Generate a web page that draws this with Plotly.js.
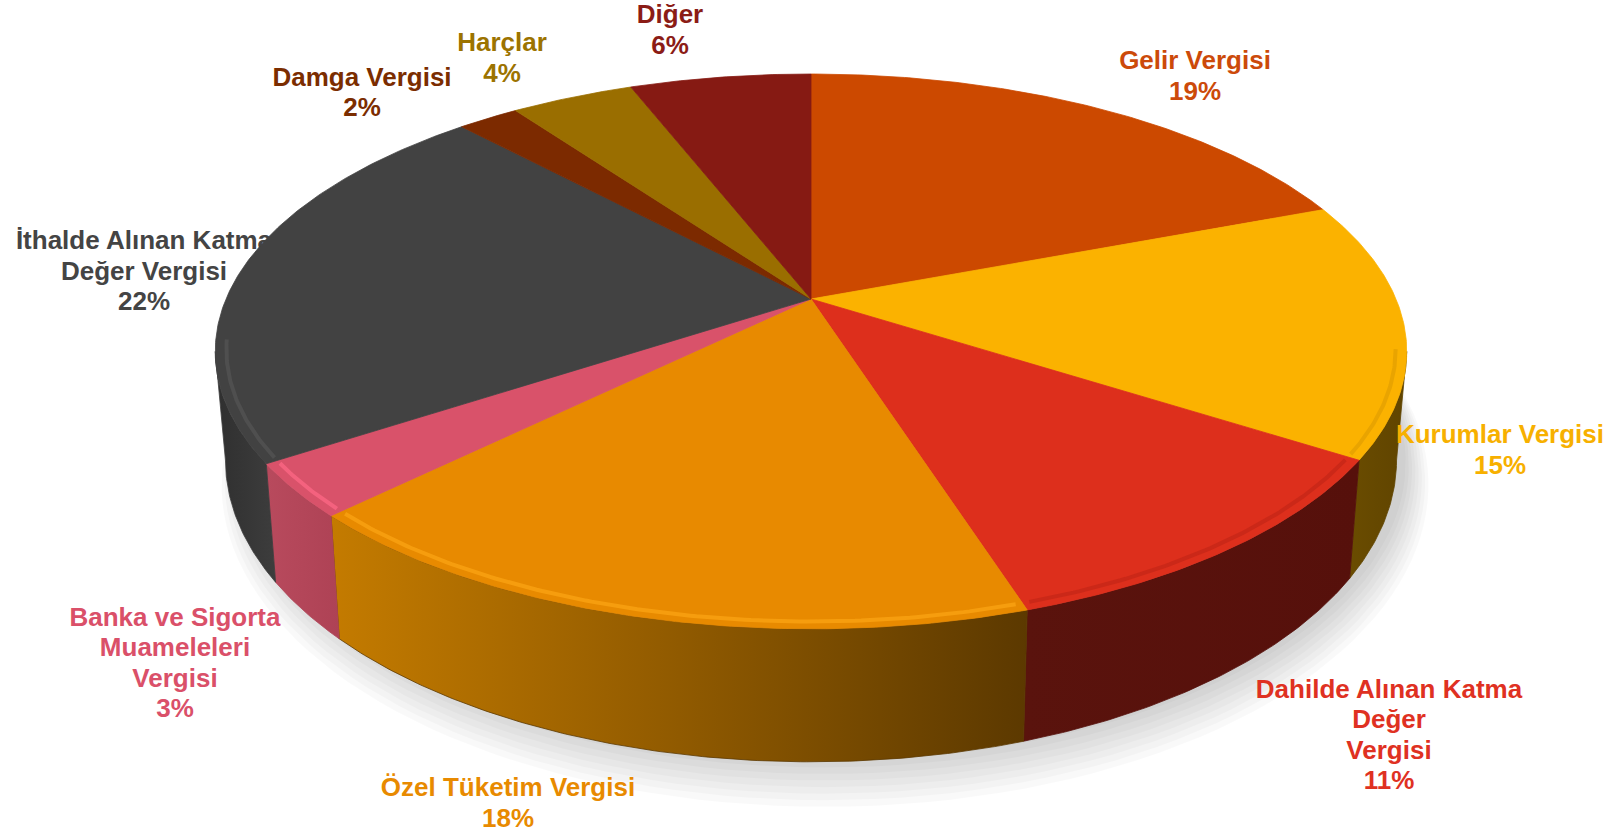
<!DOCTYPE html>
<html>
<head>
<meta charset="utf-8">
<script src="https://cdn.plot.ly/plotly-3.0.1.min.js"></script>
<style>html,body{margin:0;padding:0;background:#fff;}#chart{width:1616px;height:838px;}</style>
</head>
<body>
<div id="chart"></div>
<script>
// ---- data ----
const categories = ['Gelir Vergisi','Kurumlar Vergisi','Dahilde Alınan Katma Değer Vergisi','Özel Tüketim Vergisi','Banka ve Sigorta Muameleleri Vergisi','İthalde Alınan Katma Değer Vergisi','Damga Vergisi','Harçlar','Diğer'];
const values = [19.2, 14.9, 11.0, 17.5, 3.1, 22.4, 2.0, 4.0, 5.9];
const labelLines = [['Gelir Vergisi'],['Kurumlar Vergisi'],['Dahilde Alınan Katma','Değer','Vergisi'],['Özel Tüketim Vergisi'],['Banka ve Sigorta','Muameleleri','Vergisi'],['İthalde Alınan Katma','Değer Vergisi'],['Damga Vergisi'],['Harçlar'],['Diğer']];

// ---- styles / layout ----
const topColors  = ['#CC4900','#FBB200','#DD2F1C','#E88A00','#D9526A','#424242','#7C2A00','#9A6E00','#861A13'];
const wallColors = [['#8a3200','#8a3200'],['#6a4c00','#604400'],['#5a130d','#56100b'],['#c47b00','#5c3900'],['#b84a5d','#ae4255'],['#2f2f2f','#3d3d3d'],['#521c00','#521c00'],['#664900','#664900'],['#5a110c','#5a110c']];
const rimColors  = [null,'#c88a00','#a81e12','#ffaa18','#ff6a88','#5c5c5c',null,null,null];
const rimOpacity = [0,0.35,0.35,0.6,0.7,0.5,0,0,0];
const textColors = ['#CC4A0A','#F7B000','#DF3122','#E88A00','#DA5069','#444444','#7B2D00','#9C7300','#8B1C16'];
const labelPos = [[1195,78],[1500,452],[1389,737],[508,805],[175,665],[144,273],[362,94.5],[502,60],[670,32]];
const lineGap = 30.5;
const fontSize = 26;

// projection of the tilted disk
const G = {cx:811, cy:299, A:585, B:267.5, p:0.189, cyb:403, Ab:575, Bb:291};
function proj(phiDeg, r, bottom){
  const f = phiDeg*Math.PI/180;
  const u = r*Math.sin(f), v = -r*Math.cos(f);
  const d = 1 - G.p*v;
  if(bottom) return [G.cx + G.Ab*u/d, G.cyb + G.Bb*v/d];
  return [G.cx + G.A*u/d, G.cy + G.B*v/d];
}
function arc(a0, a1, r, bottom){
  const pts = [];
  const n = Math.max(2, Math.ceil(Math.abs(a1-a0)/0.5));
  for(let i=0;i<=n;i++){ pts.push(proj(a0+(a1-a0)*i/n, r, bottom)); }
  return pts;
}

const total = values.reduce((a,b)=>a+b,0);
const starts = [], ends = [];
let acc = 0;
values.forEach(v=>{ starts.push(acc/total*360); acc+=v; ends.push(acc/total*360); });

const traces = [];
// soft shadow under the pie
for(let k=8;k>=1;k--){
  const e = k*3.2, off = k*2.6;
  const xs=[], ys=[];
  for(let a=0;a<=360;a+=2){
    const f=a*Math.PI/180, u=Math.sin(f), v=-Math.cos(f), d=1-G.p*v;
    xs.push(G.cx + 14 + (G.Ab+e-8)*u/d); ys.push(G.cyb + off + (G.Bb+e-6)*v/d);
  }
  traces.push({type:'scatter',mode:'lines',x:xs,y:ys,fill:'toself',fillcolor:'rgba(0,0,0,0.022)',line:{width:0},hoverinfo:'skip'});
}

// labels
function addLabels(idxList){
  const xs=[], ys=[], ts=[], cs=[];
  idxList.forEach(i=>{
    const lines = labelLines[i].concat([Math.round(values[i]*100/total)+'%']);
    const n = lines.length;
    lines.forEach((t,j)=>{
      xs.push(labelPos[i][0]); ys.push(labelPos[i][1] + (j-(n-1)/2)*lineGap);
      ts.push(t); cs.push(textColors[i]);
    });
  });
  traces.push({type:'scatter',mode:'text',x:xs,y:ys,text:ts,textposition:'middle center',
    textfont:{family:'Arial, Liberation Sans, sans-serif',size:fontSize,color:cs,weight:'bold'},hoverinfo:'skip'});
}
addLabels([5]);

// walls (visible front side)
const visA = 100.9, visB = 259.1;
values.forEach((v,i)=>{
  const a0 = Math.max(starts[i], visA), a1 = Math.min(ends[i], visB);
  if(a1 <= a0) return;
  const topPts = arc(a0,a1,1,false), botPts = arc(a1,a0,1,true);
  const pts = topPts.concat(botPts); pts.push(topPts[0]);
  traces.push({type:'scatter',mode:'lines',x:pts.map(q=>q[0]),y:pts.map(q=>q[1]),fill:'toself',
    fillcolor:wallColors[i][0],
    fillgradient:{type:'horizontal',colorscale:[[0,wallColors[i][0]],[1,wallColors[i][1]]]},
    line:{width:0.8,color:wallColors[i][1]},hoverinfo:'skip'});
});

// top faces
values.forEach((v,i)=>{
  const pts = [[G.cx,G.cy]].concat(arc(starts[i],ends[i],1,false)); pts.push([G.cx,G.cy]);
  traces.push({type:'scatter',mode:'lines',x:pts.map(q=>q[0]),y:pts.map(q=>q[1]),fill:'toself',
    fillcolor:topColors[i],line:{width:0.8,color:topColors[i]},hoverinfo:'skip'});
});

// bevel along the front rim
values.forEach((v,i)=>{
  if(!rimColors[i]) return;
  const a0 = Math.max(starts[i], 100), a1 = Math.min(ends[i], 262);
  if(a1 <= a0) return;
  const pts = arc(a0+0.6,a1-0.6,0.982,false);
  traces.push({type:'scatter',mode:'lines',x:pts.map(q=>q[0]),y:pts.map(q=>q[1]),
    line:{width:4,color:rimColors[i]},opacity:rimOpacity[i],hoverinfo:'skip'});
});

addLabels([0,1,2,3,4,6,7,8]);

const layout = {
  width:1616, height:838, margin:{l:0,r:0,t:0,b:0},
  paper_bgcolor:'#ffffff', plot_bgcolor:'#ffffff', showlegend:false, hovermode:false,
  xaxis:{range:[0,1616],visible:false,fixedrange:true},
  yaxis:{range:[838,0],visible:false,fixedrange:true}
};
Plotly.newPlot('chart', traces, layout, {staticPlot:true, displayModeBar:false});
</script>
</body>
</html>
